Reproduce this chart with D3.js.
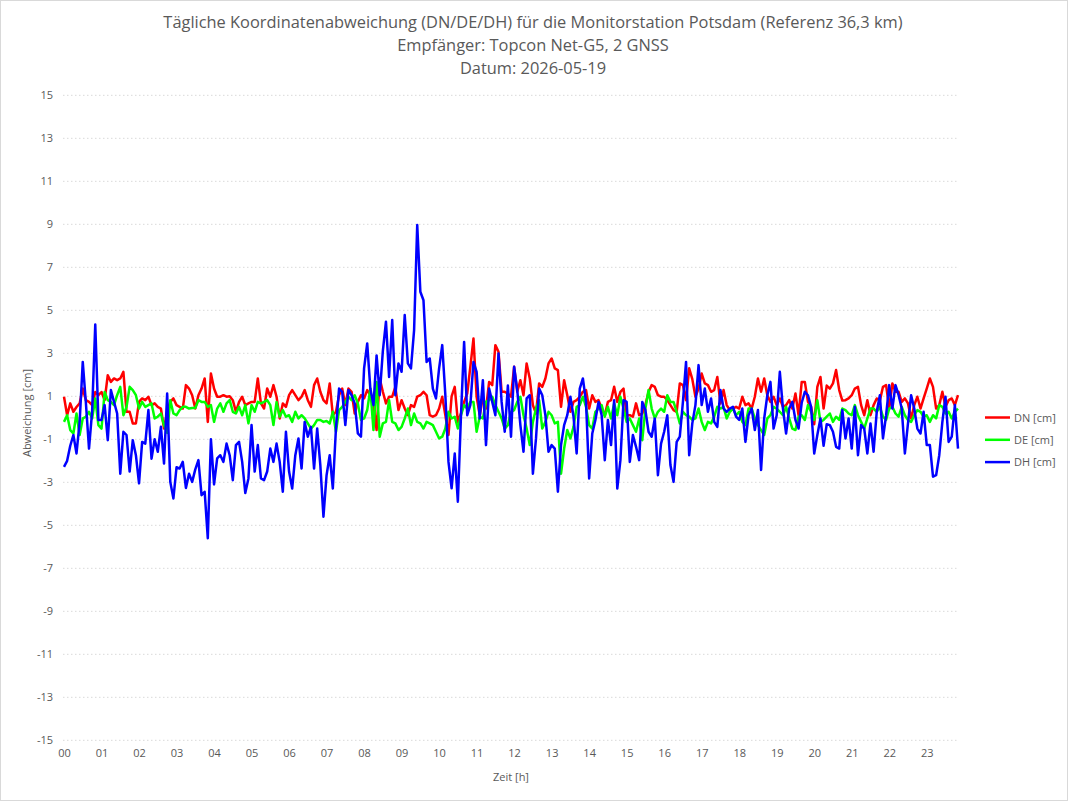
<!DOCTYPE html>
<html><head><meta charset="utf-8">
<script src="https://cdn.jsdelivr.net/npm/d3@7/dist/d3.min.js"></script>
<style>body{margin:0;background:#fff}svg{display:block}</style>
</head><body>
<svg id="chart" width="1068" height="801"></svg>
<script>
const titleLines = [
  "Tägliche Koordinatenabweichung (DN/DE/DH) für die Monitorstation Potsdam (Referenz 36,3 km)",
  "Empfänger: Topcon Net-G5, 2 GNSS",
  "Datum: 2026-05-19"
];
const hourLabels = ["00","01","02","03","04","05","06","07","08","09","10","11","12","13","14","15","16","17","18","19","20","21","22","23"];
const yTickValues = [-15,-13,-11,-9,-7,-5,-3,-1,1,3,5,7,9,11,13,15];
const seriesNames = ["DN [cm]","DE [cm]","DH [cm]"];
const seriesColors = ["#ff0000","#00ff00","#0000ff"];

const dn = [0.98,0.12,0.67,0.28,0.5,0.67,1.36,0.82,0.74,0.59,1.2,1.05,1.2,0.82,1.98,1.67,1.83,1.75,1.83,2.14,0.28,0.28,-0.26,-0.26,0.74,0.9,0.82,0.98,0.59,0.67,0.51,0.43,-0.5,0.28,0.74,0.9,0.59,0.51,0.43,1.52,1.36,1.05,0.43,1.05,1.36,1.83,-0.19,2.06,1.36,
0.98,0.98,1.05,0.98,1.0,0.82,0.28,0.74,0.98,0.59,0.67,0.74,0.74,1.83,0.67,0.43,1.36,0.98,1.52,0.98,-0.03,0.67,0.51,1.05,1.29,1.05,0.82,0.98,1.29,0.82,0.51,1.52,1.83,1.21,0.82,0.67,1.6,0.12,0.28,1.05,1.36,0.59,1.36,1.21,0.2,0.74,1.05,0.9,
1.29,1.05,0.67,-0.57,1.83,1.21,0.67,0.98,0.98,1.44,0.36,0.82,0.43,0.12,0.59,0.51,0.98,1.05,1.21,1.05,0.12,0.05,0.12,0.43,0.98,0.12,-0.8,1.0,1.44,-0.19,0.2,0.74,1.13,2.38,3.69,0.98,0.12,0.98,0.43,1.67,1.52,3.38,3.07,1.21,1.21,1.13,0.98,2.37,
1.21,1.75,1.05,2.53,1.83,0.59,0.2,1.6,1.44,1.83,2.53,2.76,2.3,2.22,0.51,1.75,1.05,0.28,0.74,0.82,0.98,1.21,1.29,0.43,1.05,0.74,0.82,0.43,0.12,0.74,0.82,1.44,0.74,1.21,1.36,0.12,0.12,0.05,0.67,0.12,0.2,0.6,1.2,1.52,1.44,1.05,0.98,0.98,
0.82,0.59,0.36,0.28,1.6,1.52,0.82,2.3,1.8,0.98,1.36,2.06,1.6,1.52,1.21,1.29,1.9,0.67,1.29,0.59,0.36,0.43,0.51,0.43,0.98,0.59,0.67,0.43,0.98,1.83,1.21,1.83,1.05,0.74,0.98,0.59,0.9,0.51,0.59,0.82,0.43,1.13,0.12,1.67,1.67,0.74,0.51,-0.3,
1.44,1.9,0.43,1.5,1.36,1.6,2.22,1.29,0.8,0.82,0.9,1.05,1.36,1.44,0.59,0.12,0.82,0.12,0.59,0.9,0.8,1.44,1.52,0.43,1.6,1.21,1.21,0.74,0.9,0.67,-0.03,0.59,0.98,0.43,0.9,1.36,1.83,1.44,0.43,0.59,1.21,0.51,0.82,0.9,0.59,1.05];

const de = [-0.19,0.12,-0.57,-0.73,0.2,-0.8,-0.03,0.05,0.28,-0.03,0.9,-0.34,-0.5,1.2,0.82,0.74,0.59,1.05,1.44,0.12,0.5,1.44,1.29,1.05,0.43,0.74,0.51,0.59,0.67,-0.03,0.05,0.2,-0.34,-0.7,0.82,0.2,0.12,0.36,0.51,0.51,0.43,0.46,0.46,0.82,0.74,0.74,0.51,0.59,-0.19,
0.43,0.67,0.28,0.67,0.82,0.28,0.2,0.51,0.12,0.59,-0.26,0.59,0.28,0.74,0.67,0.74,0.82,0.59,-0.34,0.74,0.05,0.36,0.05,0.12,-0.19,0.28,-0.03,0.12,-0.03,-0.26,-0.5,-0.34,-0.1,-0.1,-0.19,-0.15,-0.26,0.28,-0.65,0.36,0.51,0.74,0.98,0.82,1.05,0.67,-0.1,-0.03,
0.36,1.36,-0.57,1.67,-0.88,-0.26,-0.19,0.82,-0.19,-0.26,-0.57,-0.42,-0.03,0.43,-0.34,0.2,-0.19,-0.26,-0.5,-0.19,-0.26,-0.34,-0.65,-0.96,-0.88,-0.5,0.28,-0.03,0.05,-0.5,0.12,0.59,0.43,0.74,0.74,-0.65,0.05,-0.03,0.74,0.82,0.98,0.59,0.28,-0.03,-0.5,-0.34,0.28,0.36,
0.74,0.98,0.12,-0.5,-1.27,-0.19,0.43,0.82,-0.5,-0.19,0.28,0.12,-0.26,-0.19,-2.6,-1.43,-0.57,-0.96,-0.42,0.51,0.59,0.98,0.51,-0.34,-0.5,0.28,0.43,0.59,0.05,0.51,-0.03,0.67,0.12,0.98,0.43,-0.19,-0.03,-0.34,-0.65,-0.03,-1.04,0.43,1.29,0.43,-0.03,0.28,0.43,0.28,
1.05,0.74,0.74,0.28,-0.26,0.28,0.12,0.05,-0.1,-0.03,0.43,-0.19,-0.57,-0.19,-0.26,0.05,0.51,0.43,0.51,-0.03,0.28,0.43,0.12,0.28,-0.19,-0.34,0.43,0.43,-0.03,-0.34,-0.57,-0.8,-0.03,0.12,0.51,0.43,0.28,0.12,0.51,-0.03,-0.5,-0.57,0.05,0.12,-0.1,0.59,0.28,-0.1,
0.82,-0.19,-0.1,0.05,0.2,-0.19,0.05,-0.1,0.43,0.36,0.2,0.12,0.59,0.12,-0.19,-0.5,-0.03,0.43,0.43,0.28,0.51,0.05,-0.1,0.43,0.51,0.2,0.05,0.51,0.12,-0.1,-0.19,0.12,0.36,0.28,0.05,0.12,-0.19,0.12,-0.03,0.59,0.51,0.2,0.28,-0.03,0.28,0.43];

const dh = [-2.28,-2.0,-1.3,-0.8,-1.66,-0.2,2.6,0.7,-1.43,0.3,4.34,-0.1,-0.1,0.59,-1.04,1.29,0.74,0.2,-2.6,-0.65,-0.8,-2.5,-1.04,-1.74,-3.05,-1.12,-1.2,0.36,-1.9,-1.0,-1.58,-0.42,-2.13,1.13,-2.98,-3.75,-2.3,-2.36,-2.05,-3.26,-2.6,-2.98,-2.4,-1.97,-3.6,-3.44,-5.6,-1.0,-3.1,
-1.89,-1.74,-2.05,-1.2,-1.74,-2.9,-1.27,-1.12,-2.05,-3.5,-2.82,-0.34,-2.5,-1.27,-2.82,-2.9,-2.5,-1.43,-2.05,-1.2,-2.05,-3.44,-0.65,-2.5,-3.29,-1.74,-0.96,-2.36,-0.19,-0.88,-0.42,-2.36,-0.5,-2.2,-4.6,-2.67,-1.74,-3.29,-0.5,1.36,1.21,-0.34,1.29,1.05,0.67,-0.73,-0.88,2.3,
3.46,1.36,0.59,2.9,1.05,3.1,4.47,1.9,4.55,1.05,2.53,2.14,4.78,2.53,2.3,4.08,8.97,5.86,5.47,2.6,2.76,1.36,0.9,2.3,3.38,1.05,-2.05,-3.28,-1.66,-3.9,0.12,3.53,0.12,0.6,2.6,2.14,-0.03,1.75,-1.27,1.36,0.74,0.12,2.99,0.74,-0.65,1.5,-0.88,2.37,
1.29,-0.34,-1.58,0.9,1.05,-2.6,-0.96,1.36,1.05,0.12,-1.58,-1.27,-1.43,-3.44,-1.27,-0.34,0.12,0.98,0.05,-1.66,1.36,1.83,0.74,-2.82,-0.73,-0.1,0.74,0.12,-1.97,-0.1,-1.27,0.82,-3.29,-1.97,0.82,0.74,-2.05,-0.8,-1.35,-1.97,0.74,0.36,-0.65,-0.88,-0.03,-2.67,-1.2,-0.65,
0.12,-2.2,-2.98,-1.12,-0.88,0.74,2.6,-1.74,-0.26,0.59,2.45,0.59,1.36,0.28,0.9,-0.19,-0.42,1.29,0.43,0.28,0.43,0.51,0.05,-0.1,0.43,-1.12,0.12,0.43,-0.57,0.36,-2.43,-0.03,1.05,1.67,-0.5,0.12,2.14,0.43,-0.73,0.43,0.74,-0.1,-0.5,0.7,1.21,1.05,0.51,-1.66,
-0.8,-0.03,-1.3,-0.3,-0.34,-0.65,-1.35,-1.43,0.36,-0.96,-0.03,-1.43,0.51,-1.74,-0.34,-0.5,-1.66,-0.26,-1.58,0.28,1.05,-0.96,0.12,1.52,0.43,1.52,1.05,0.43,-1.66,-0.26,1.05,0.43,-0.5,-0.73,0.28,-1.27,-1.27,-2.74,-2.67,-1.74,-0.19,0.98,-1.12,-0.88,0.59,-1.43];

const series = [dn, de, dh];
const svg = d3.select("#chart");
const W = 1068, H = 801;
const FONT = "'Open Sans', 'Noto Sans', sans-serif";
const TXT = "#595959";

svg.append("rect").attr("x",0.5).attr("y",0.5).attr("width",W-1).attr("height",H-1)
  .attr("fill","#fff").attr("stroke","#d9d9d9");

const x = d3.scaleLinear().domain([0, dn.length - 1]).range([64, 958]);
const y = d3.scaleLinear().domain([-15, 15]).range([740.3, 95.3]);

// title
svg.append("g").selectAll("text").data(titleLines).join("text")
  .attr("x", 533).attr("y", (d,i) => 28 + i*23)
  .attr("text-anchor","middle").attr("font-family",FONT).attr("font-size",16.4)
  .attr("fill",TXT).text(d => d);

// gridlines
svg.append("g").selectAll("line").data(yTickValues).join("line")
  .attr("x1", 63).attr("x2", 958)
  .attr("y1", d => y(d)).attr("y2", d => y(d))
  .attr("stroke","#d9d9d9").attr("stroke-width",1).attr("stroke-dasharray","1.5,2.5");

// y axis labels
const yAxis = d3.axisLeft(y).tickValues(yTickValues).tickSize(0).tickPadding(0)
  .tickFormat(d => String(d));
const yg = svg.append("g").attr("transform","translate(53,0)").call(yAxis);
yg.select(".domain").remove();
yg.selectAll("text").attr("font-family",FONT).attr("font-size",11).attr("fill",TXT);

// zero axis line
svg.append("line").attr("x1",64).attr("x2",958).attr("y1",y(0)).attr("y2",y(0))
  .attr("stroke","#d9d9d9").attr("stroke-width",1.2);

// x axis labels
const xTickIdx = hourLabels.map((h,i) => i*12);
const xAxis = d3.axisBottom(x).tickValues(xTickIdx).tickSize(0).tickPadding(0)
  .tickFormat((d,i) => hourLabels[i]);
const xg = svg.append("g").attr("transform","translate(0,749)").call(xAxis);
xg.select(".domain").remove();
xg.selectAll("text").attr("font-family",FONT).attr("font-size",11).attr("fill",TXT);

// axis titles
svg.append("text").attr("x",511).attr("y",781).attr("text-anchor","middle")
  .attr("font-family",FONT).attr("font-size",11).attr("fill",TXT).text("Zeit [h]");
svg.append("text").attr("transform","translate(31,413) rotate(-90)").attr("text-anchor","middle")
  .attr("font-family",FONT).attr("font-size",11).attr("fill",TXT).text("Abweichung [cm]");

// lines
const line = d3.line().x((d,i) => x(i)).y(d => y(d));
svg.append("g").selectAll("path").data(series).join("path")
  .attr("d", d => line(d)).attr("fill","none")
  .attr("stroke", (d,i) => seriesColors[i]).attr("stroke-width",2.5)
  .attr("stroke-linejoin","round");

// legend
const lg = svg.append("g").selectAll("g").data(seriesNames).join("g")
  .attr("transform", (d,i) => `translate(985,${417.5 + i*22.3})`);
lg.append("line").attr("x1",0).attr("x2",25).attr("stroke",(d,i)=>seriesColors[i]).attr("stroke-width",2.5);
lg.append("text").attr("x",29).attr("y",4).attr("font-family",FONT).attr("font-size",11)
  .attr("fill",TXT).text(d => d);
</script>
</body></html>
